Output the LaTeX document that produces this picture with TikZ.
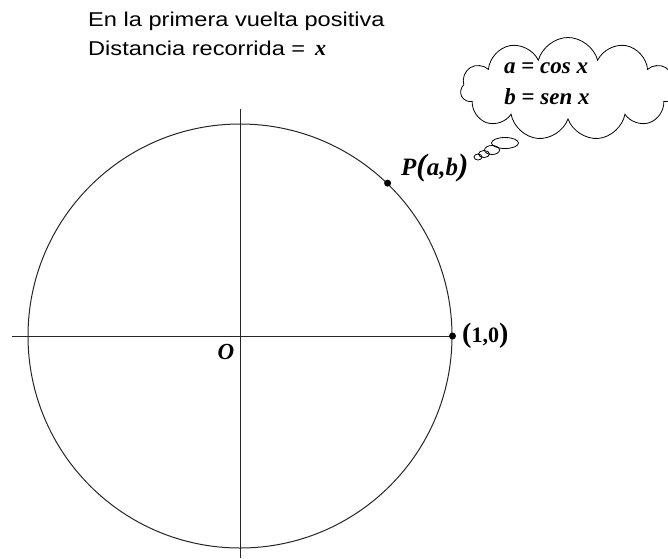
\documentclass[tikz,border=0pt]{standalone}
\usepackage{fontspec}
\setmainfont{Liberation Serif}
\newfontfamily\arial[FakeStretch=1.18]{Liberation Sans}
\usetikzlibrary{shapes.symbols,shapes.geometric}
\begin{document}
\begin{tikzpicture}[x=1pt,y=-1pt,
  axis/.style={line width=1pt, draw=black!85},
  dot/.style={circle, fill=black, inner sep=0pt, minimum size=7pt},
  lbl/.style={inner sep=0pt, font=\bfseries\itshape\fontsize{23}{26}\selectfont},
  ttl/.style={inner sep=0pt, anchor=base west, font=\arial\fontsize{20}{24}\selectfont},
  bubble/.style={ellipse, draw, line width=0.8pt, inner sep=0pt}]
\useasboundingbox (0,0) rectangle (668,558);
% title
\node[ttl] (t1) at (88,26) {En la primera vuelta positiva};
\node[ttl] (t2) at (88,55) {Distancia recorrida = \,{\rmfamily\bfseries\itshape\fontsize{22}{24}\selectfont x}};
% circle and axes
\node[circle, draw=black!85, line width=1pt, minimum size=424pt, inner sep=0pt] (C) at (240,336) {};
\coordinate (xl) at (12,336);
\coordinate (yt) at (240,109);
\coordinate (yb) at (240,558);
\draw[axis] (xl) -- (C.east);
\draw[axis] (yt) -- (yb);
% points
\node[dot] (P) at (C.46) {};
\node[dot] (E) at (C.east) {};
\node[lbl, anchor=base west, font=\bfseries\itshape\fontsize{25}{28}\selectfont] (Pl) at (401,175) {P{\fontsize{31}{31}\selectfont(}a,b{\fontsize{31}{31}\selectfont)}};
\node[lbl, anchor=west, font=\bfseries\fontsize{22}{24}\selectfont] (El) at (462,336) {{\fontsize{28}{28}\selectfont(}1,0{\fontsize{28}{28}\selectfont)}};
\node[lbl] (Ol) at (226,352) {O};
% thought cloud
\node[cloud, draw, line width=0.8pt, cloud puffs=11, aspect=2.2, minimum width=215pt, minimum height=103pt, inner sep=0pt] (cl) at (568,89) {};
\node[lbl, anchor=base] (eqa) at (546,73) {a {\upshape=} cos x};
\node[lbl, anchor=base] (eqb) at (547,104) {b {\upshape=} sen x};
\node[bubble, minimum width=27pt, minimum height=11pt] (b1) at (505,143) {};
\node[bubble, minimum width=15pt, minimum height=9pt] (b2) at (492,150) {};
\node[bubble, minimum width=11pt, minimum height=7pt] (b3) at (484,154) {};
\node[bubble, minimum width=8pt, minimum height=6pt] (b4) at (478,157) {};
\end{tikzpicture}
\end{document}
